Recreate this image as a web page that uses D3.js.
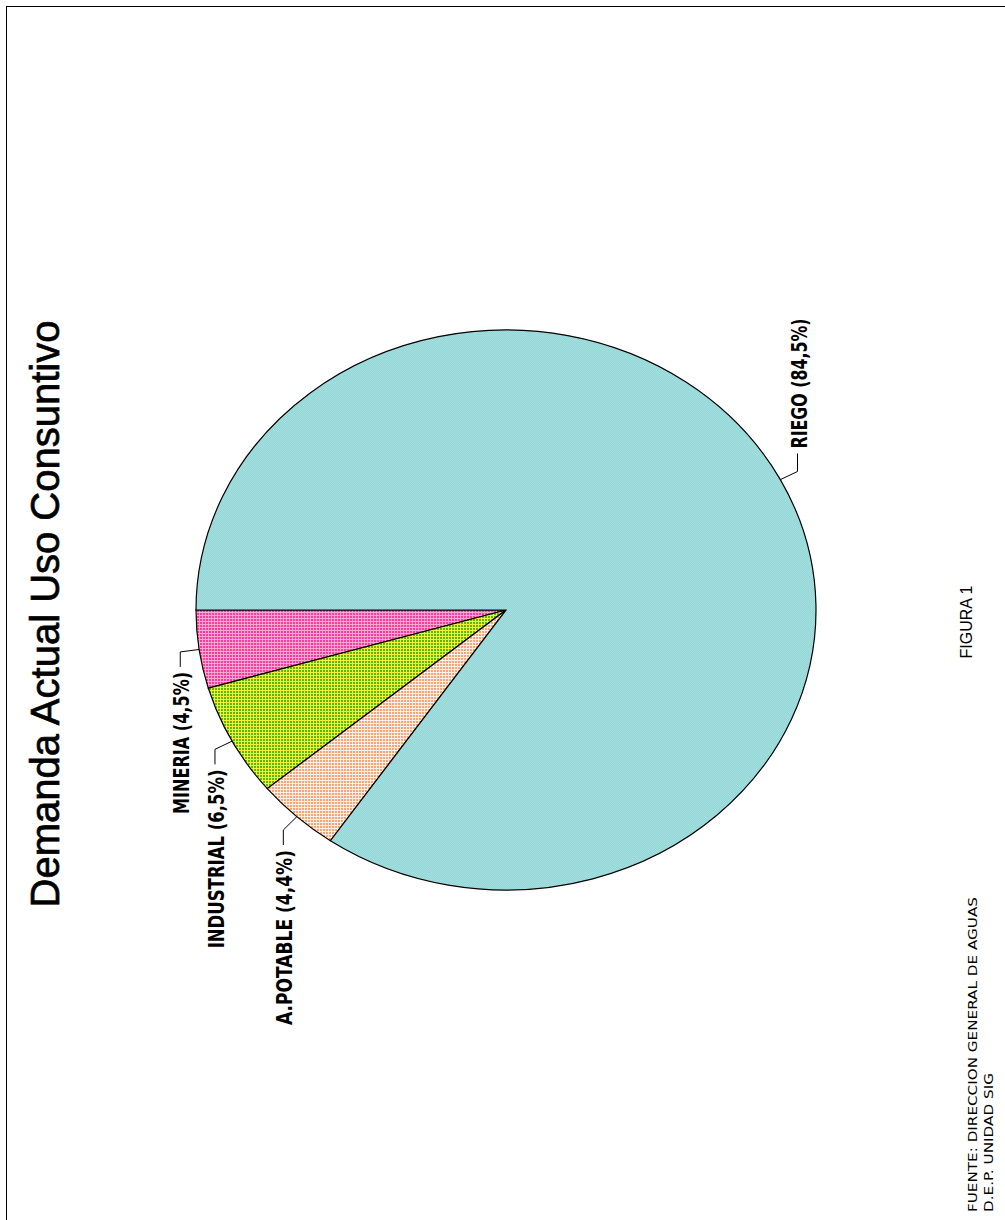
<!DOCTYPE html>
<meta charset="utf-8">
<style>
body { margin: 0; background: #fff; }
svg { display: block; }
.slice { stroke: #000; stroke-width: 1.2; vector-effect: non-scaling-stroke; }
.leader { fill: none; stroke: #000; stroke-width: 1; }
.lbl { font-family: "Liberation Sans Narrow", "DejaVu Sans Condensed", "Liberation Sans", Arial, sans-serif; font-weight: bold; font-size: 21px; }
</style>
<body>
<div id="chart"></div>
<script src="https://d3js.org/d3.v7.min.js"></script>
<script>
// data
var categories = ["MINERIA", "INDUSTRIAL", "A.POTABLE", "RIEGO"];
var values = [4.5, 6.5, 4.4, 84.5];
var labels = ["MINERIA (4,5%)", "INDUSTRIAL (6,5%)", "A.POTABLE (4,4%)", "RIEGO (84,5%)"];
var labelLengths = [142, 179, 175, 130];
var title = "Demanda Actual Uso Consuntivo";
var figLabel = "FIGURA 1";
var source = ["FUENTE: DIRECCION GENERAL DE AGUAS", "D.E.P. UNIDAD SIG"];

var width = 1005, height = 1220;
var cx = 506, cy = 610, rx = 310, ry = 280;
var k = ry / rx;

var svg = d3.select("#chart").append("svg")
    .attr("width", width)
    .attr("height", height);

// dithered fills, like the old plotter output
var defs = svg.append("defs");
var fills = [
  {id: "pMin", base: "#ff3a9d", line: "#ffa8d4"},
  {id: "pInd", base: "#5cb800", line: "#f2f23c"},
  {id: "pPot", base: "#ffa273", line: "#fff0e8"},
  {id: "pRie", base: "#93e6e6", line: "#a6d0d0"}
];
fills.forEach(function(f, i) {
  var n = i == 3 ? 2 : 3;
  var p = defs.append("pattern")
      .attr("id", f.id)
      .attr("patternUnits", "userSpaceOnUse")
      // undo the group's squash/rotate so the dots stay square on screen
      .attr("patternTransform", "rotate(90) scale(1," + (1 / k) + ")")
      .attr("width", n)
      .attr("height", n);
  p.append("rect").attr("width", n).attr("height", n).attr("fill", f.base);
  if (i == 3) {
    p.append("rect").attr("x", 1).attr("width", 1).attr("height", 1).attr("fill", f.line);
    p.append("rect").attr("y", 1).attr("width", 1).attr("height", 1).attr("fill", f.line);
  } else {
    p.append("rect").attr("x", 2).attr("width", 1).attr("height", 3).attr("fill", f.line);
    p.append("rect").attr("y", 2).attr("width", 3).attr("height", 1).attr("fill", f.line);
  }
});

// frame (right and bottom edges fall outside the page, as in the scan)
svg.append("rect")
    .attr("x", 6.5).attr("y", 6.5)
    .attr("width", width + 10).attr("height", height + 10)
    .attr("fill", "none").attr("stroke", "#000");

// pie: starts at 9 o'clock and runs counter-clockwise, squashed to an ellipse
var pie = d3.pie().sort(null).startAngle(0).endAngle(-2 * Math.PI);
var arcs = pie(values);
var arc = d3.arc().innerRadius(0).outerRadius(rx);

var g = svg.append("g")
    .attr("transform", "translate(" + cx + "," + cy + ") scale(1," + k + ") rotate(-90)");

g.selectAll("path")
    .data(arcs)
  .enter().append("path")
    .attr("class", "slice")
    .attr("d", arc)
    .attr("fill", function(d, i) { return "url(#" + fills[i].id + ")"; });

// screen point on the ellipse for a pie angle
function onEllipse(a) {
  return [cx - rx * Math.cos(a), cy - ry * Math.sin(a)];
}

arcs.forEach(function(d, i) {
  var mid = (d.startAngle + d.endAngle) / 2;
  var p0 = onEllipse(mid);
  var ux = p0[0] - cx, uy = p0[1] - cy;
  var len = Math.sqrt(ux * ux + uy * uy);
  var p1 = [p0[0] + 19 * ux / len, p0[1] + 19 * uy / len];
  var right = ux > 0;
  var p2 = [p1[0], p1[1] + (right ? -18 : 15)];
  svg.append("path")
      .attr("class", "leader")
      .attr("d", d3.line()([p0, p1, p2]));
  var ty = right ? p2[1] - 5 : p2[1] + 5;
  svg.append("text")
      .attr("class", "lbl")
      .attr("transform", "translate(" + (p2[0] + 9) + "," + ty + ") rotate(-90)")
      .attr("text-anchor", right ? "start" : "end")
      .attr("textLength", labelLengths[i])
      .attr("lengthAdjust", "spacingAndGlyphs")
      .text(labels[i]);
});

// title
svg.append("text")
    .attr("transform", "translate(59,614) rotate(-90)")
    .attr("text-anchor", "middle")
    .style("font-family", "'Liberation Sans', Arial, sans-serif")
    .style("font-size", "40px")
    .style("stroke", "#000")
    .style("stroke-width", "0.7px")
    .text(title);

svg.append("text")
    .attr("transform", "translate(972,622) rotate(-90)")
    .attr("text-anchor", "middle")
    .style("font-family", "'Liberation Sans', Arial, sans-serif")
    .style("font-size", "16px")
    .text(figLabel);

source.forEach(function(s, i) {
  svg.append("text")
      .attr("transform", "translate(" + (977 + i * 16) + ",1212) rotate(-90)")
      .attr("text-anchor", "start")
      .attr("textLength", i == 0 ? 315 : 139)
      .attr("lengthAdjust", "spacingAndGlyphs")
      .style("font-family", "'DejaVu Sans', sans-serif")
      .style("font-size", "12px")
      .text(s);
});
</script>
</body>
